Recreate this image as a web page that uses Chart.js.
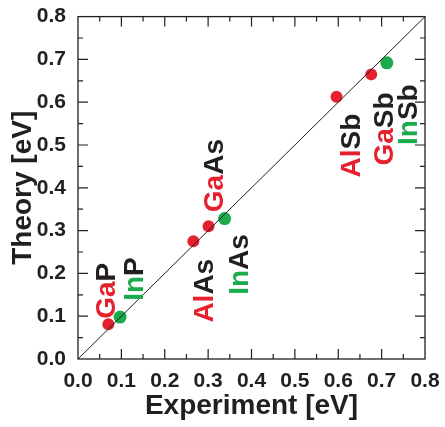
<!DOCTYPE html>
<html>
<head>
<meta charset="utf-8">
<script src="https://cdn.jsdelivr.net/npm/chart.js@4"></script>
<style>
  html, body { margin: 0; padding: 0; background: #fff; }
  #wrap { width: 445px; height: 427px; }
</style>
</head>
<body>
<div id="wrap"><canvas id="myChart" width="445" height="427"></canvas></div>
<script>
// compounds, cation part is coloured
const cations = ["Ga", "In", "Al", "Ga", "In", "Al", "Ga", "In"];
const anions = ["P", "P", "As", "As", "As", "Sb", "Sb", "Sb"];
const experiment = [0.070, 0.097, 0.266, 0.301, 0.338, 0.596, 0.676, 0.712];
const theory = [0.081, 0.098, 0.275, 0.310, 0.328, 0.613, 0.665, 0.692];
const diagonal = [0, 0.8];

const RED = "#e6212e";
const GREEN = "#1bab4c";
const INK = "#231f20";
const FONT = "'Liberation Sans', Arial, Helvetica, sans-serif";

const cationColor = { Ga: RED, Al: RED, In: GREEN };

// where each rotated label starts (bottom-left of text, in data units)
const labelAt = [
  [0.085, 0.094], [0.150, 0.136], [0.311, 0.085], [0.334, 0.343],
  [0.392, 0.150], [0.650, 0.424], [0.726, 0.452], [0.781, 0.500],
];

const redPts = [], greenPts = [];
experiment.forEach((x, i) => {
  const p = { x: x, y: theory[i] };
  if (cationColor[cations[i]] === GREEN) greenPts.push(p);
  else redPts.push(p);
});

const frameAndTicks = {
  id: "frameAndTicks",
  afterDraw(chart) {
    const c = chart.ctx;
    const a = chart.chartArea;
    const xs = chart.scales.x, ys = chart.scales.y;
    c.save();
    c.strokeStyle = INK;
    c.lineWidth = 1.3;
    c.strokeRect(a.left, a.top, a.right - a.left, a.bottom - a.top);
    c.lineWidth = 1.2;
    c.beginPath();
    for (let k = 1; k < 16; k++) {
      const v = k * 0.05;
      const len = k % 2 === 0 ? 10 : 5;
      const px = xs.getPixelForValue(v);
      const py = ys.getPixelForValue(v);
      c.moveTo(px, a.bottom); c.lineTo(px, a.bottom - len);
      c.moveTo(px, a.top); c.lineTo(px, a.top + len);
      c.moveTo(a.left, py); c.lineTo(a.left + len, py);
      c.moveTo(a.right, py); c.lineTo(a.right - len, py);
    }
    c.stroke();

    // compound labels, rotated
    c.font = "bold 28px " + FONT;
    c.textBaseline = "alphabetic";
    c.textAlign = "left";
    cations.forEach((cat, i) => {
      const px = xs.getPixelForValue(labelAt[i][0]);
      const py = ys.getPixelForValue(labelAt[i][1]);
      c.save();
      c.translate(px, py);
      c.rotate(-Math.PI / 2);
      c.fillStyle = cationColor[cat];
      c.fillText(cat, 0, 0);
      const w = c.measureText(cat).width;
      c.fillStyle = INK;
      c.fillText(anions[i], w, 0);
      c.restore();
    });
    c.restore();
  },
};

const ctx = document.getElementById("myChart");

new Chart(ctx, {
  type: "scatter",
  data: {
    datasets: [
      {
        type: "line",
        data: diagonal.map((v) => ({ x: v, y: v })),
        borderColor: INK,
        borderWidth: 1,
        pointRadius: 0,
        fill: false,
      },
      {
        data: redPts,
        backgroundColor: RED,
        borderColor: RED,
        pointRadius: 6,
        borderWidth: 0,
      },
      {
        data: greenPts,
        backgroundColor: GREEN,
        borderColor: GREEN,
        pointRadius: 6.5,
        borderWidth: 0,
      },
    ],
  },
  options: {
    responsive: false,
    animation: false,
    layout: { padding: { left: 0, right: 20, top: 12, bottom: 0 } },
    plugins: {
      legend: { display: false },
      tooltip: { enabled: false },
    },
    scales: {
      x: {
        type: "linear",
        min: 0,
        max: 0.8,
        ticks: {
          stepSize: 0.1,
          padding: 2,
          color: INK,
          font: { family: FONT, size: 21, weight: "bold" },
          callback: (v) => v.toFixed(1),
        },
        grid: { display: false },
        border: { display: false },
        title: {
          display: true,
          text: "Experiment [eV]",
          color: INK,
          font: { family: FONT, size: 28, weight: "bold", lineHeight: 1.2 },
          padding: { top: 0, bottom: 4 },
        },
        afterFit: (s) => { s.height = 68; },
      },
      y: {
        type: "linear",
        min: 0,
        max: 0.8,
        ticks: {
          stepSize: 0.1,
          padding: 4,
          color: INK,
          font: { family: FONT, size: 21, weight: "bold" },
          callback: (v) => v.toFixed(1),
        },
        grid: { display: false },
        border: { display: false },
        title: {
          display: true,
          text: "Theory [eV]",
          color: INK,
          font: { family: FONT, size: 28, weight: "bold", lineHeight: 1.2 },
          padding: { top: 6, bottom: 0 },
        },
        afterFit: (s) => { s.width = 78; },
      },
    },
  },
  plugins: [frameAndTicks],
});
</script>
</body>
</html>
